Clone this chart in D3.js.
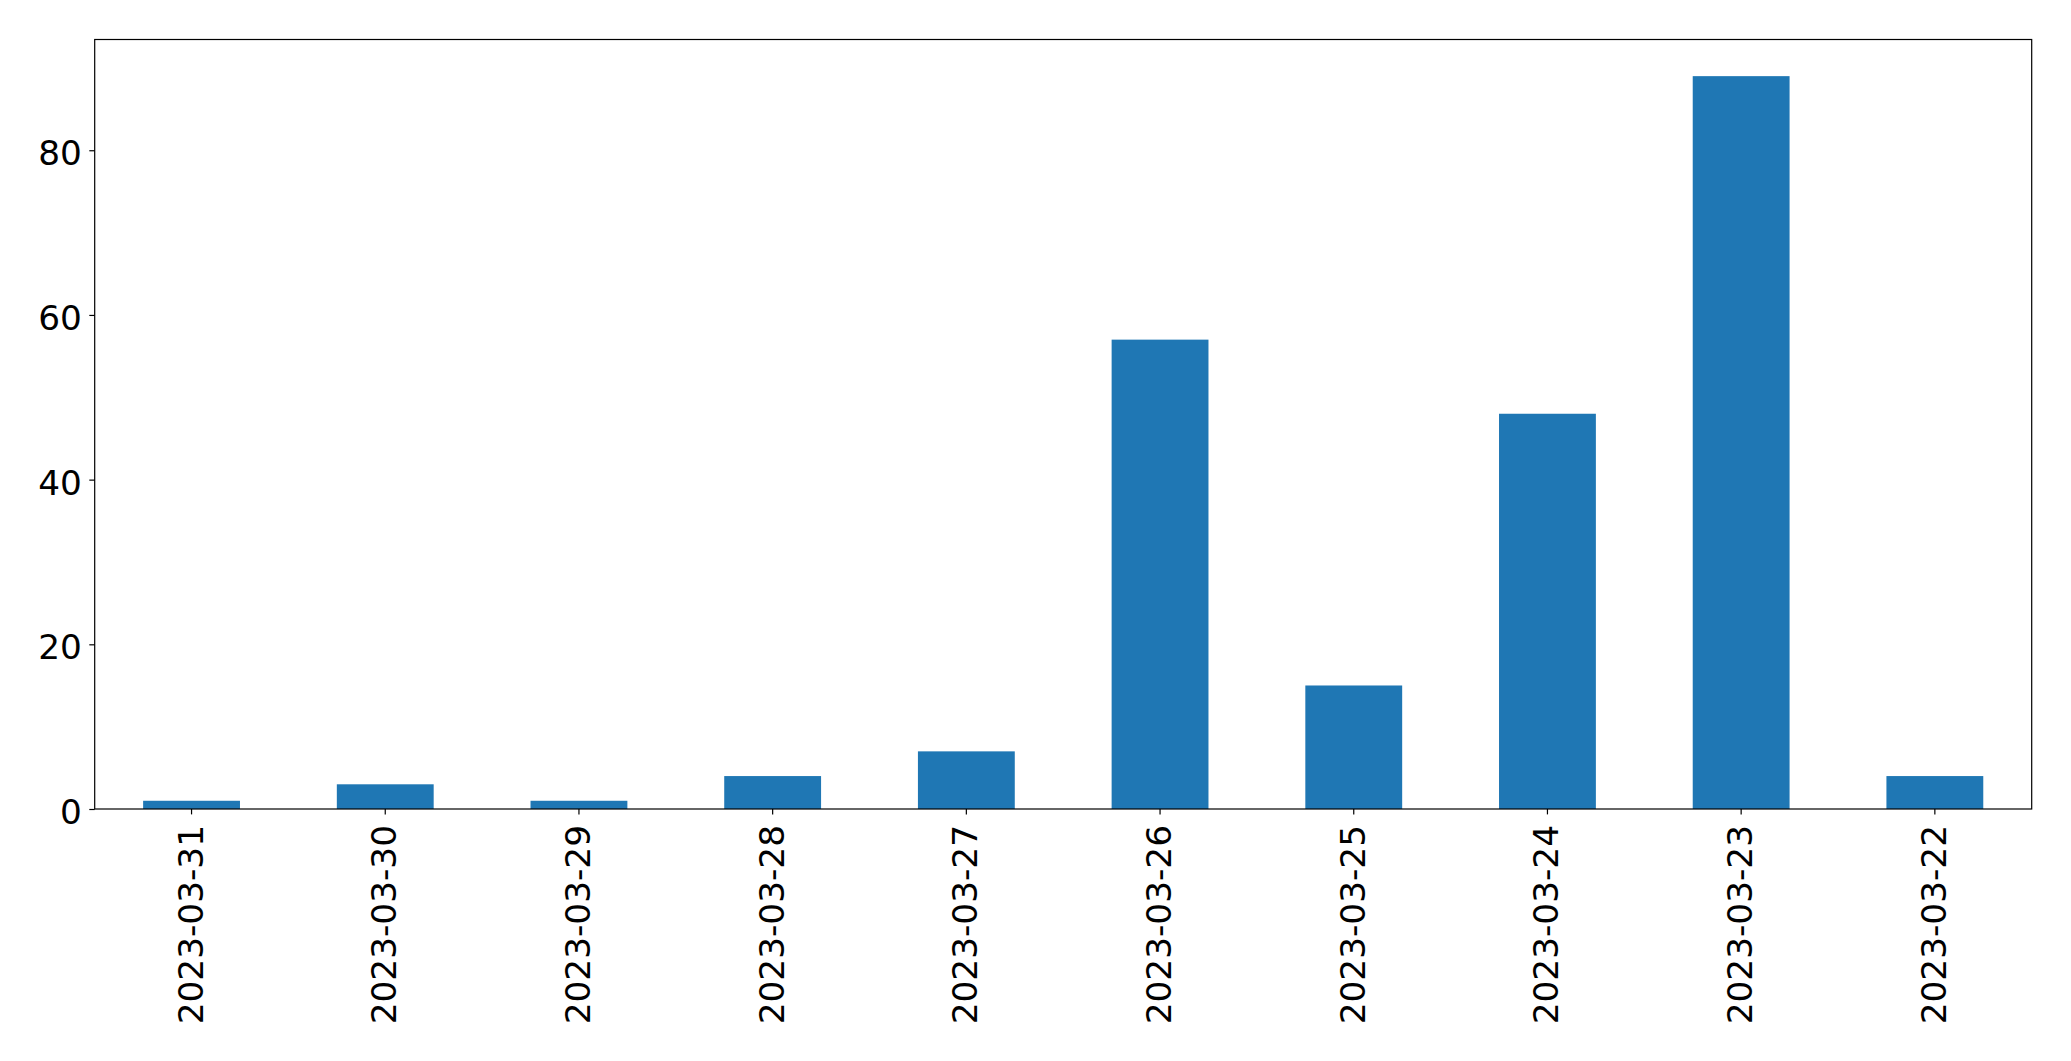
<!DOCTYPE html>
<html>
<head>
<meta charset="utf-8">
<script src="https://cdn.jsdelivr.net/npm/d3@7"></script>
<style>
  html, body { margin: 0; padding: 0; background: #fff; }
  svg { display: block; }
  text { font-family: "DejaVu Sans", sans-serif; fill: #000; }
</style>
</head>
<body>
<script>
const categories = ["2023-03-31","2023-03-30","2023-03-29","2023-03-28","2023-03-27","2023-03-26","2023-03-25","2023-03-24","2023-03-23","2023-03-22"];
const values = [1, 3, 1, 4, 7, 57, 15, 48, 89, 4];
const yTicks = [0, 20, 40, 60, 80];

(function () {
const W = 2071, H = 1061;
const mLeft = 94.7, mRight = 2031.7, mTop = 39.5, mBottom = 809;
const fontSize = 34.3;

const svg = d3.select("body").append("svg").attr("width", W).attr("height", H);

const x = d3.scaleBand().domain(categories).range([mLeft, mRight]).paddingInner(0.5).paddingOuter(0.25);
const y = d3.scaleLinear().domain([0, d3.max(values) * 1.05]).range([mBottom, mTop]);

svg.append("g").selectAll("rect").data(values).join("rect")
  .attr("x", (d, i) => x(categories[i]))
  .attr("width", x.bandwidth())
  .attr("y", d => y(d))
  .attr("height", d => y(0) - y(d))
  .attr("fill", "#1f77b4");

// frame
svg.append("rect").attr("x", mLeft).attr("y", mTop).attr("width", mRight - mLeft).attr("height", mBottom - mTop)
  .attr("fill", "none").attr("stroke", "#000").attr("stroke-width", 1.2);

// y axis
const yAxis = d3.axisLeft(y).tickValues(yTicks).tickSize(5.4).tickPadding(7.5).tickFormat(d3.format("d"));
const gy = svg.append("g").attr("transform", `translate(${mLeft},0)`).call(yAxis);
gy.select(".domain").remove();
gy.selectAll(".tick line").attr("stroke", "#000").attr("stroke-width", 1.2);
gy.selectAll(".tick text").attr("font-size", fontSize).attr("font-family", "DejaVu Sans").attr("dy", "0.42em").attr("fill", "#000");

// x axis
const xAxis = d3.axisBottom(x).tickSize(5.4).tickPadding(0);
const gx = svg.append("g").attr("transform", `translate(0,${mBottom})`).call(xAxis);
gx.select(".domain").remove();
gx.selectAll(".tick line").attr("stroke", "#000").attr("stroke-width", 1.2);
gx.selectAll(".tick text")
  .attr("font-size", fontSize).attr("font-family", "DejaVu Sans").attr("fill", "#000")
  .attr("text-anchor", "end")
  .attr("y", 0).attr("x", 0).attr("dy", "0.32em")
  .attr("transform", "translate(0,16) rotate(-90)");
})();
</script>
</body>
</html>
